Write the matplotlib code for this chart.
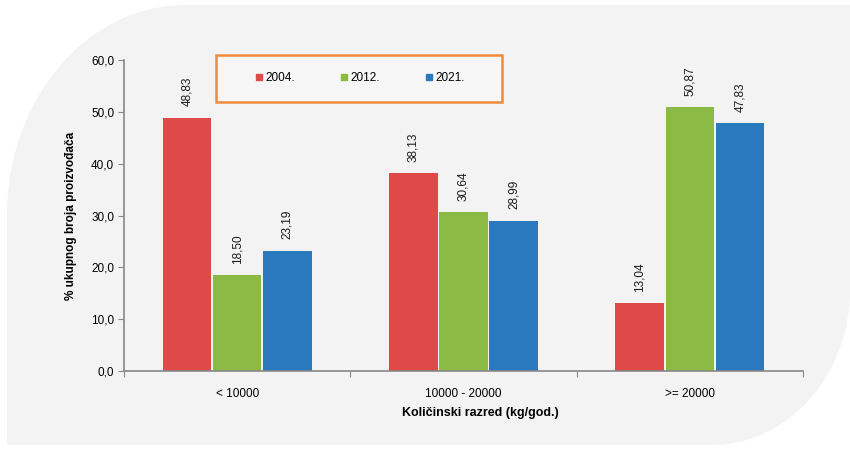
import numpy as np
import matplotlib.pyplot as plt
from matplotlib.path import Path
from matplotlib.patches import PathPatch, Rectangle
from matplotlib.lines import Line2D

plt.rcParams['font.family'] = ['Liberation Sans', 'DejaVu Sans']

categories = ['< 10000', '10000 - 20000', '>= 20000']
years = ['2004.', '2012.', '2021.']
v2004 = [48.83, 38.13, 13.04]
v2012 = [18.50, 30.64, 50.87]
v2021 = [23.19, 28.99, 47.83]
colors = ['#df4a48', '#8cbb45', '#2a79bf']

W, H = 850, 450
fig = plt.figure(figsize=(8.5, 4.5), dpi=100)
fig.patch.set_facecolor('white')

# rounded grey panel behind the chart (pixel coords -> figure fraction)
def px(x, y):
    return (x / W, 1 - y / H)

k = 0.55
verts = [px(7, 445), px(7, 215),
         px(7, 215 - 210 * k), px(185 - 178 * k, 5), px(185, 5),
         px(850, 5), px(850, 290),
         px(850, 290 + 155 * k), px(712 + 138 * k, 445), px(712, 445),
         px(7, 445)]
codes = [Path.MOVETO, Path.LINETO,
         Path.CURVE4, Path.CURVE4, Path.CURVE4,
         Path.LINETO, Path.LINETO,
         Path.CURVE4, Path.CURVE4, Path.CURVE4,
         Path.CLOSEPOLY]
panel = PathPatch(Path(verts, codes), transform=fig.transFigure,
                  facecolor='#f3f3f3', edgecolor='none', zorder=-5)
fig.patches.append(panel)

ax = fig.add_axes([124 / W, 1 - 371 / H, (803 - 124) / W, (371 - 60) / H])
ax.set_facecolor('none')

x = np.arange(len(categories))
step = 0.222
width = 0.215
for i, (vals, c) in enumerate(zip([v2004, v2012, v2021], colors)):
    pos = x + (i - 1) * step
    ax.bar(pos, vals, width=width, color=c, zorder=2)
    for p, v in zip(pos, vals):
        ax.text(p, v + 2.2, f'{v:.2f}'.replace('.', ','), rotation=90,
                ha='center', va='bottom', fontsize=8.5, color='#1a1a1a')

ax.set_xlim(-0.5, 2.5)
ax.set_ylim(0, 60)
ax.set_yticks(np.arange(0, 61, 10))
ax.set_yticklabels([f'{t:.1f}'.replace('.', ',') for t in np.arange(0, 61, 10)])
ax.set_xticks([-0.5, 0.5, 1.5, 2.5])
ax.set_xticklabels([])
ax.set_xticks(x, minor=True)
ax.set_xticklabels(categories, minor=True)
ax.tick_params(axis='x', which='minor', length=0, pad=12, labelsize=8.5)
ax.tick_params(axis='x', which='major', length=4, color='#888888')
ax.tick_params(axis='y', length=4, color='#888888', labelsize=8.5, pad=3)

for s in ['top', 'right']:
    ax.spines[s].set_visible(False)
for s in ['left', 'bottom']:
    ax.spines[s].set_color('#888888')
    ax.spines[s].set_linewidth(1.2)

ax.set_ylabel('% ukupnog broja proizvođača', fontsize=8.5, fontweight='bold',
              labelpad=10)
fig.text(480 / W, 1 - 413 / H, 'Količinski razred (kg/god.)', ha='center',
         va='center', fontsize=9, fontweight='bold')

# legend box
box = Rectangle(px(216, 102), 286 / W, 47 / H, transform=fig.transFigure,
                facecolor='#f6f6f6', edgecolor='#f08a3c', linewidth=1.8,
                zorder=3)
fig.patches.append(box)
handles = [Line2D([], [], marker='s', linestyle='none', markersize=5,
                  color=c) for c in colors]
leg = fig.legend(handles, years, loc='center', ncol=3,
                 bbox_to_anchor=(359 / W, 1 - 78 / H),
                 fontsize=8.5, frameon=False, handletextpad=0.1,
                 columnspacing=3.6, handlelength=1.0)
leg.set_zorder(4)

fig.savefig('out.png', dpi=100)
